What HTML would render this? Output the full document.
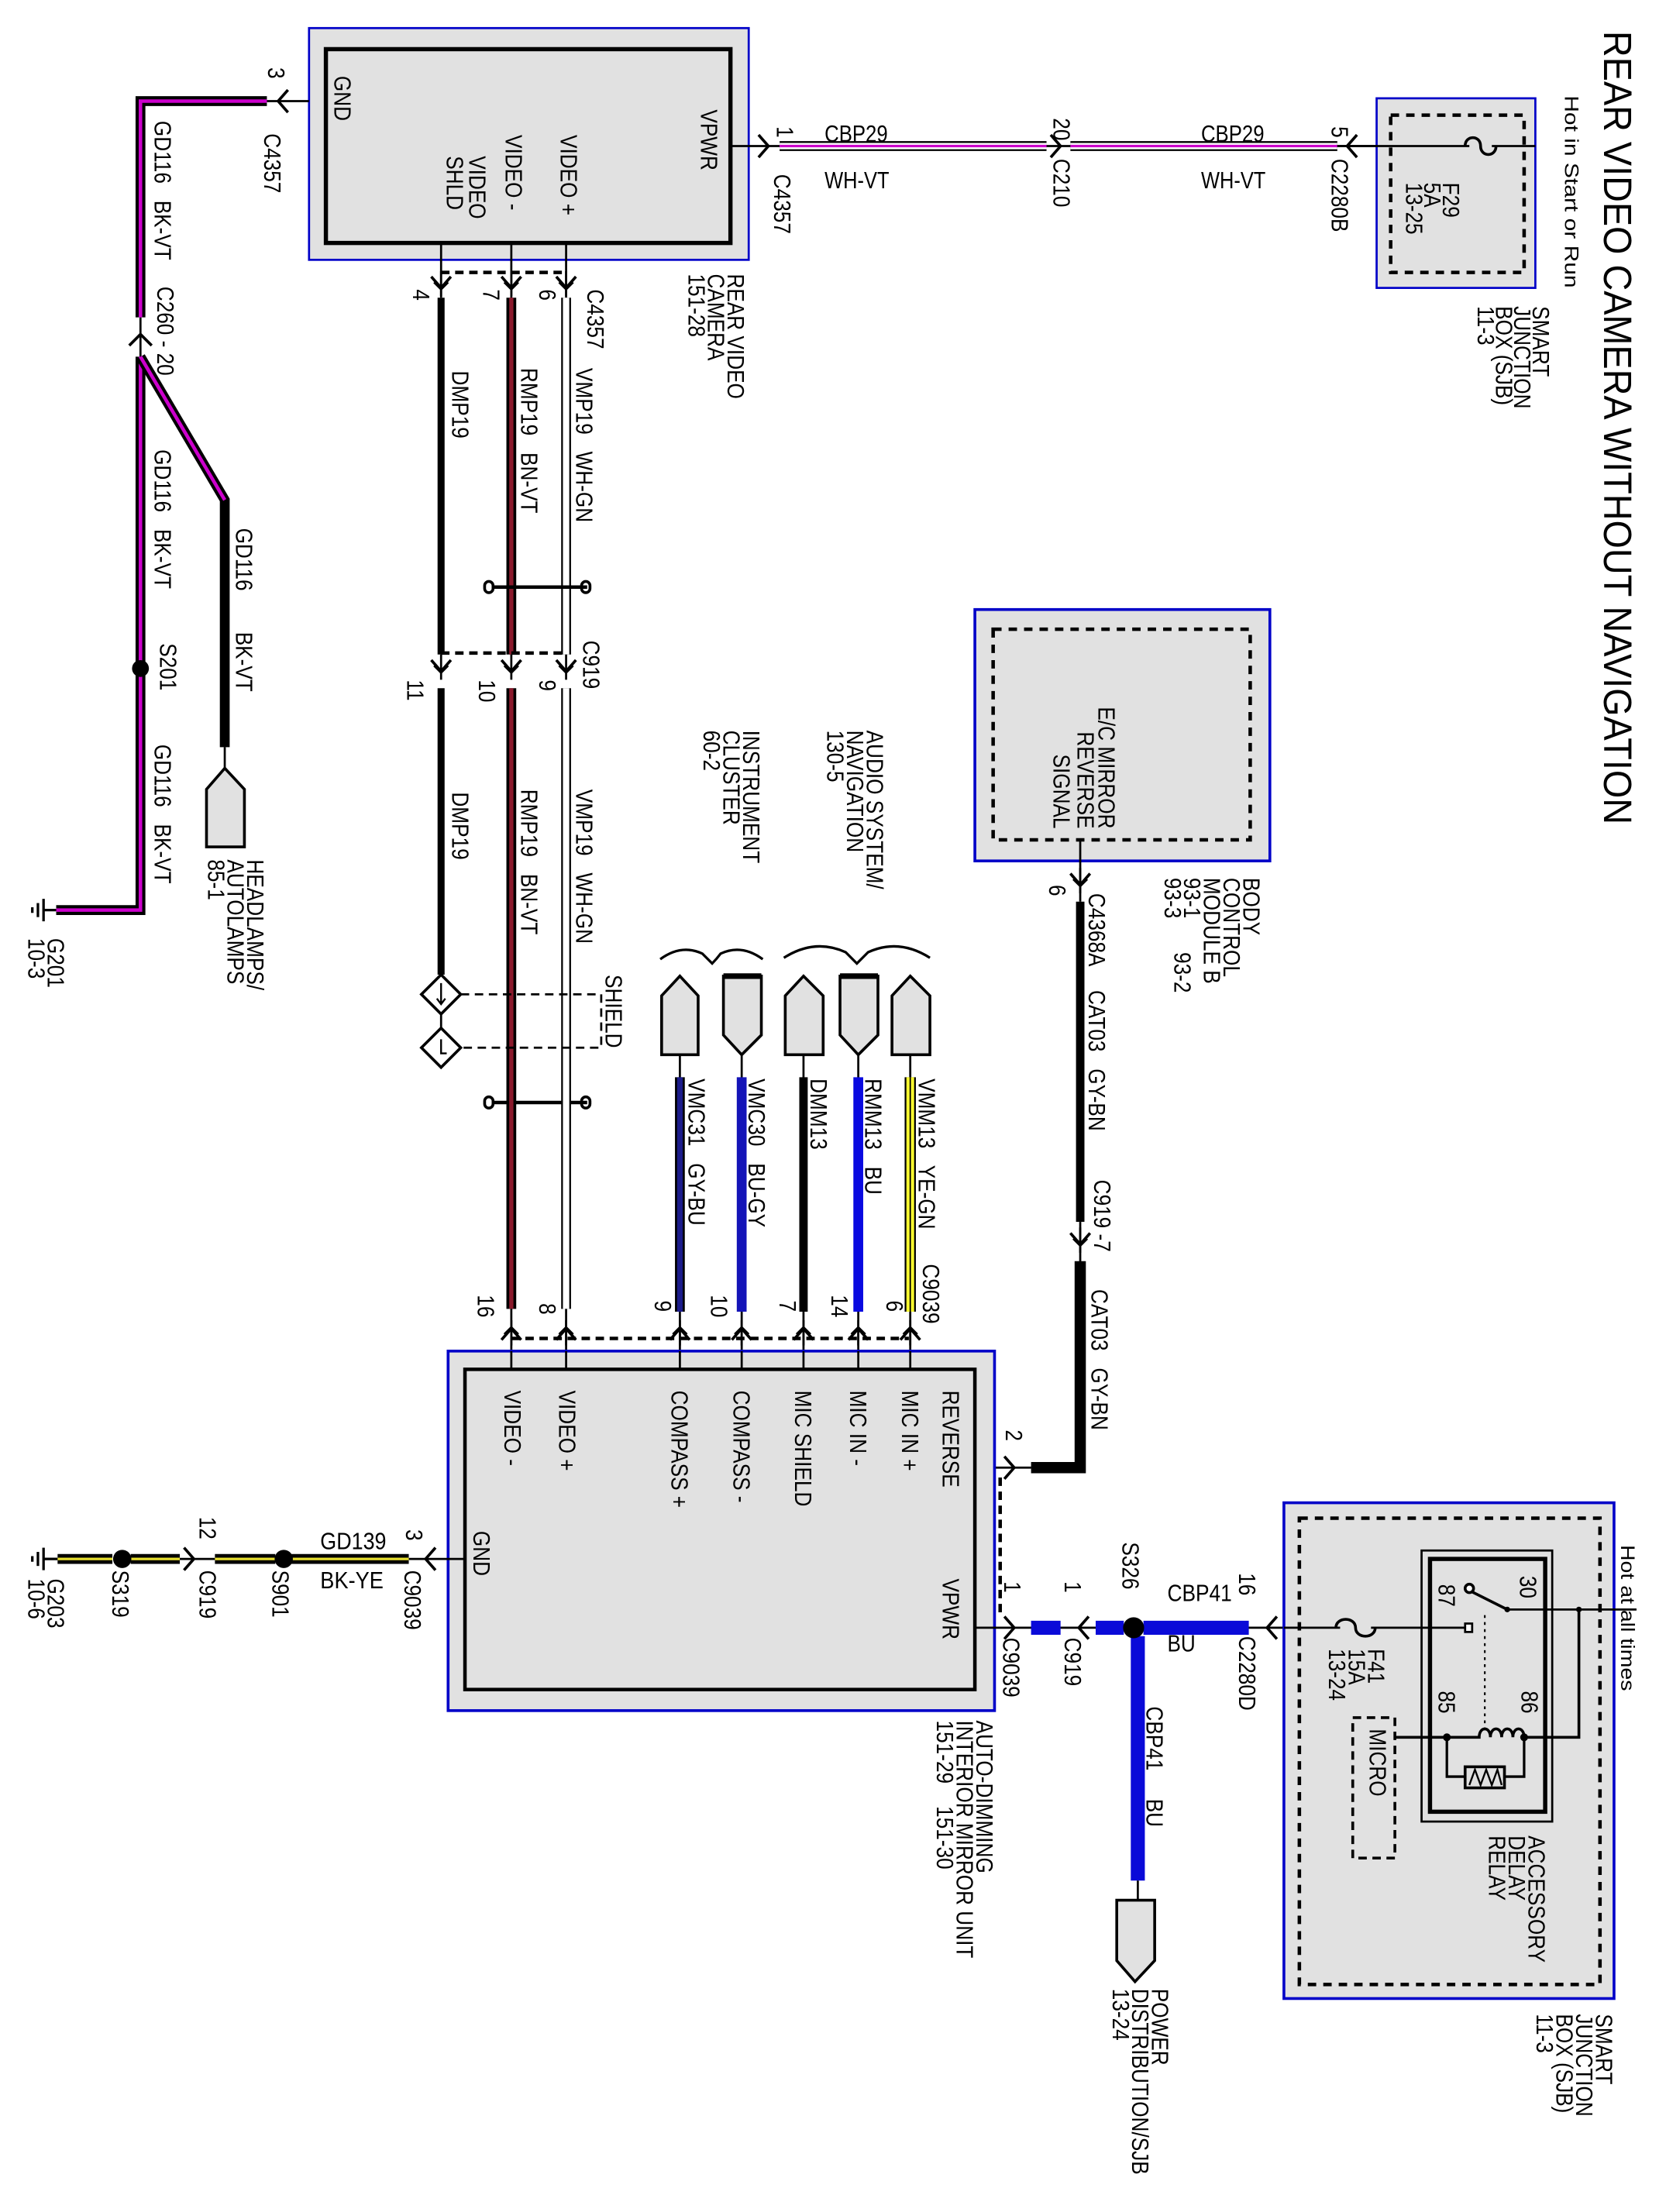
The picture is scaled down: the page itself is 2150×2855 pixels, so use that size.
<!DOCTYPE html>
<html><head><meta charset="utf-8"><style>
html,body{margin:0;padding:0;background:#fff;}
svg{display:block;}
text{font-family:"Liberation Sans",Arial,sans-serif;font-size:17px;fill:#000;white-space:pre;}
.s{font-size:14px;}
.t{font-size:28px;}
</style></head><body>
<svg width="2150" height="2855" viewBox="0 0 1186 1575" preserveAspectRatio="none" xmlns="http://www.w3.org/2000/svg" xml:space="preserve">
<rect width="1186" height="1575" fill="#fff"/>
<defs>
<g id="cd"><polyline points="-7,-8 0,0 7,-8" fill="none" stroke="#000" stroke-width="2"/><polyline points="-5,-4 0,1 5,-4" fill="none" stroke="#000" stroke-width="1.5"/><line x1="0" y1="-12" x2="0" y2="6" stroke="#000" stroke-width="1.5"/></g>
</defs>

<!-- Title -->
<text class="t" transform="translate(1142 22) rotate(90)" textLength="565" lengthAdjust="spacingAndGlyphs">REAR VIDEO CAMERA WITHOUT NAVIGATION</text>

<!-- ===== Rear video camera ===== -->
<rect x="220" y="20" width="313" height="165" fill="#e1e1e1" stroke="#0000c8" stroke-width="1.5"/>
<rect x="232" y="35" width="288" height="138" fill="none" stroke="#000" stroke-width="3"/>
<text transform="translate(238 54) rotate(90) scale(.85 1)">GND</text>
<text transform="translate(499 78) rotate(90) scale(.85 1)">VPWR</text>
<text transform="translate(399 96) rotate(90) scale(.85 1)">VIDEO +</text>
<text transform="translate(360 96) rotate(90) scale(.85 1)">VIDEO -</text>
<text transform="translate(334 111) rotate(90) scale(.85 1)">VIDEO</text>
<text transform="translate(318 111) rotate(90) scale(.85 1)">SHLD</text>
<text transform="translate(518 195) rotate(90) scale(.85 1)">REAR VIDEO</text>
<text transform="translate(504 195) rotate(90) scale(.85 1)">CAMERA</text>
<text transform="translate(490 195) rotate(90) scale(.85 1)">151-28</text>

<!-- camera pins -->
<line x1="314" y1="173" x2="314" y2="212" stroke="#000" stroke-width="1.5"/>
<line x1="364" y1="173" x2="364" y2="212" stroke="#000" stroke-width="1.5"/>
<line x1="403" y1="173" x2="403" y2="212" stroke="#000" stroke-width="1.5"/>
<line x1="314" y1="194" x2="403" y2="194" stroke="#000" stroke-width="2.5" stroke-dasharray="6,4"/>
<use href="#cd" x="314" y="205"/><use href="#cd" x="364" y="205"/><use href="#cd" x="403" y="205"/>
<text transform="translate(294 206) rotate(90) scale(.85 1)">4</text>
<text transform="translate(344 206) rotate(90) scale(.85 1)">7</text>
<text transform="translate(384 206) rotate(90) scale(.85 1)">6</text>
<text transform="translate(418 206) rotate(90) scale(.85 1)">C4357</text>

<!-- wires camera -> C919 -->
<line x1="314" y1="212" x2="314" y2="466" stroke="#000" stroke-width="5"/>
<line x1="364" y1="212" x2="364" y2="466" stroke="#000" stroke-width="7"/>
<line x1="364" y1="212" x2="364" y2="466" stroke="#8a1a2c" stroke-width="3"/>
<line x1="403" y1="212" x2="403" y2="466" stroke="#000" stroke-width="7"/>
<line x1="403" y1="212" x2="403" y2="466" stroke="#fff" stroke-width="4.5"/>
<text transform="translate(322 264) rotate(90) scale(.85 1)">DMP19</text>
<text transform="translate(371 262) rotate(90) scale(.85 1)">RMP19   BN-VT</text>
<text transform="translate(410 262) rotate(90) scale(.85 1)">VMP19   WH-GN</text>
<!-- twist marks -->
<g stroke="#000" fill="none" stroke-width="2">
<line x1="350" y1="418" x2="418" y2="418" stroke-width="2.5"/>
<rect x="345" y="414" width="6" height="8" rx="3"/><rect x="414" y="414" width="6" height="8" rx="3"/>
<line x1="350" y1="785" x2="418" y2="785" stroke-width="2.5"/>
<rect x="345" y="781" width="6" height="8" rx="3"/><rect x="414" y="781" width="6" height="8" rx="3"/>
</g>
<!-- C919 -->
<line x1="314" y1="465" x2="403" y2="465" stroke="#000" stroke-width="2.5" stroke-dasharray="6,4"/>
<use href="#cd" x="314" y="478"/><use href="#cd" x="364" y="478"/><use href="#cd" x="403" y="478"/>
<text transform="translate(290 484) rotate(90) scale(.85 1)">11</text>
<text transform="translate(341 484) rotate(90) scale(.85 1)">10</text>
<text transform="translate(384 484) rotate(90) scale(.85 1)">9</text>
<text transform="translate(415 456) rotate(90) scale(.85 1)">C919</text>

<line x1="314" y1="490" x2="314" y2="694" stroke="#000" stroke-width="5"/>
<line x1="364" y1="490" x2="364" y2="932" stroke="#000" stroke-width="7"/>
<line x1="364" y1="490" x2="364" y2="932" stroke="#8a1a2c" stroke-width="3"/>
<line x1="403" y1="490" x2="403" y2="932" stroke="#000" stroke-width="7"/>
<line x1="403" y1="490" x2="403" y2="932" stroke="#fff" stroke-width="4.5"/>
<text transform="translate(322 564) rotate(90) scale(.85 1)">DMP19</text>
<text transform="translate(371 562) rotate(90) scale(.85 1)">RMP19   BN-VT</text>
<text transform="translate(410 562) rotate(90) scale(.85 1)">VMP19   WH-GN</text>

<!-- shield diamonds -->
<g stroke="#000" stroke-width="2" fill="#fff">
<polygon points="314,694 328,708 314,722 300,708"/>
<polygon points="314,732 328,746 314,760 300,746"/>
</g>
<line x1="314" y1="722" x2="314" y2="732" stroke="#000" stroke-width="1.5"/>
<path d="M314 700 L314 715 M311 711 L314 715 L317 711" stroke="#000" stroke-width="1.3" fill="none"/>
<path d="M314 740 L314 750 L318 750" stroke="#000" stroke-width="1.3" fill="none"/>
<path d="M328 708 L428 708 L428 746 L328 746" stroke="#000" stroke-width="1.5" fill="none" stroke-dasharray="6,4"/>
<text transform="translate(431 694) rotate(90) scale(.85 1)">SHIELD</text>

<!-- bottom pins to mirror -->
<use href="#cd" x="364" y="946" transform="rotate(180 364 946)"/>
<use href="#cd" x="403" y="946" transform="rotate(180 403 946)"/>
<text transform="translate(340 922) rotate(90) scale(.85 1)">16</text>
<text transform="translate(384 928) rotate(90) scale(.85 1)">8</text>
<line x1="364" y1="953" x2="647" y2="953" stroke="#000" stroke-width="2.5" stroke-dasharray="6,4"/>

<!-- ===== Left ground GD116 ===== -->
<line x1="220" y1="72" x2="190" y2="72" stroke="#000" stroke-width="1.5"/>
<polyline points="205,64 198,72 205,80" fill="none" stroke="#000" stroke-width="2"/>
<path d="M190 72 L100 72 L100 226" fill="none" stroke="#000" stroke-width="7"/>
<path d="M190 72 L100 72 L100 226" fill="none" stroke="#cc00cc" stroke-width="2.5"/>
<text transform="translate(191 48) rotate(90) scale(.85 1)">3</text>
<text transform="translate(188 95) rotate(90) scale(.85 1)">C4357</text>
<text transform="translate(110 86) rotate(90) scale(.85 1)">GD116   BK-VT</text>
<text transform="translate(112 204) rotate(90) scale(.85 1)">C260 - 20</text>
<line x1="100" y1="226" x2="100" y2="254" stroke="#000" stroke-width="1.5"/>
<polyline points="92,246 100,238 108,246" fill="none" stroke="#000" stroke-width="2"/>
<path d="M100 254 L100 648 L40 648" fill="none" stroke="#000" stroke-width="7"/>
<path d="M100 254 L100 648 L40 648" fill="none" stroke="#cc00cc" stroke-width="2.5"/>
<path d="M100 254 L160 356 L160 532" fill="none" stroke="#000" stroke-width="7"/>
<path d="M100 254 L160 356" fill="none" stroke="#cc00cc" stroke-width="2.5"/>
<circle cx="100" cy="476" r="6" fill="#000"/>
<text transform="translate(110 320) rotate(90) scale(.85 1)">GD116   BK-VT</text>
<text transform="translate(114 458) rotate(90) scale(.85 1)">S201</text>
<text transform="translate(110 530) rotate(90) scale(.85 1)">GD116   BK-VT</text>
<text transform="translate(168 376) rotate(90) scale(.85 1)">GD116</text>
<text transform="translate(168 450) rotate(90) scale(.85 1)">BK-VT</text>
<line x1="160" y1="532" x2="160" y2="547" stroke="#000" stroke-width="1.5"/>
<polygon points="160,547 174,562 174,603 147,603 147,562" fill="#e1e1e1" stroke="#000" stroke-width="2"/>
<text transform="translate(176 612) rotate(90) scale(.85 1)">HEADLAMPS/</text>
<text transform="translate(162 612) rotate(90) scale(.85 1)">AUTOLAMPS</text>
<text transform="translate(148 612) rotate(90) scale(.85 1)">85-1</text>
<!-- G201 -->
<g stroke="#000" stroke-width="1.8"><line x1="40" y1="648" x2="31" y2="648"/><line x1="31" y1="640" x2="31" y2="656"/><line x1="27" y1="643" x2="27" y2="653"/><line x1="23" y1="646" x2="23" y2="650"/></g>
<text transform="translate(34 668) rotate(90) scale(.85 1)">G201</text>
<text transform="translate(20 668) rotate(90) scale(.85 1)">10-3</text>

<!-- ===== Top power CBP29 ===== -->
<line x1="519" y1="104" x2="555" y2="104" stroke="#000" stroke-width="1.5"/>
<polyline points="540,96 547,104 540,112" fill="none" stroke="#000" stroke-width="2"/>
<g>
<line x1="555" y1="104" x2="745" y2="104" stroke="#000" stroke-width="7"/>
<line x1="555" y1="104" x2="745" y2="104" stroke="#fff" stroke-width="4.5"/>
<line x1="555" y1="104" x2="745" y2="104" stroke="#cc00cc" stroke-width="1.8"/>
<line x1="762" y1="104" x2="952" y2="104" stroke="#000" stroke-width="7"/>
<line x1="762" y1="104" x2="952" y2="104" stroke="#fff" stroke-width="4.5"/>
<line x1="762" y1="104" x2="952" y2="104" stroke="#cc00cc" stroke-width="1.8"/>
</g>
<line x1="745" y1="104" x2="762" y2="104" stroke="#000" stroke-width="1.5"/>
<polyline points="748,96 755,104 748,112" fill="none" stroke="#000" stroke-width="2"/>
<line x1="952" y1="104" x2="1093" y2="104" stroke="#000" stroke-width="1.5"/>
<polyline points="966,96 959,104 966,112" fill="none" stroke="#000" stroke-width="2"/>
<text transform="translate(553 90) rotate(90) scale(.85 1)">1</text>
<text transform="translate(551 124) rotate(90) scale(.85 1)">C4357</text>
<text x="587" y="101" textLength="45" lengthAdjust="spacingAndGlyphs">CBP29</text>
<text x="587" y="134" textLength="46" lengthAdjust="spacingAndGlyphs">WH-VT</text>
<text x="855" y="101" textLength="45" lengthAdjust="spacingAndGlyphs">CBP29</text>
<text x="855" y="134" textLength="46" lengthAdjust="spacingAndGlyphs">WH-VT</text>
<text transform="translate(750 84) rotate(90) scale(.85 1)">20</text>
<text transform="translate(750 113) rotate(90) scale(.85 1)">C210</text>
<text transform="translate(948 90) rotate(90) scale(.85 1)">5</text>
<text transform="translate(948 113) rotate(90) scale(.85 1)">C2280B</text>
<!-- SJB top -->
<rect x="980" y="70" width="113" height="135" fill="#e1e1e1" stroke="#0000c8" stroke-width="1.5"/>
<rect x="990" y="82" width="95" height="112" fill="none" stroke="#000" stroke-width="2.5" stroke-dasharray="6,5"/>
<line x1="952" y1="104" x2="1093" y2="104" stroke="#000" stroke-width="1.5"/>
<line x1="1046" y1="104" x2="1062" y2="104" stroke="#e1e1e1" stroke-width="2.5"/>
<path d="M1043 104 C1043 96 1054 96 1054 104 C1054 112 1065 112 1065 104" fill="none" stroke="#000" stroke-width="2"/>
<text transform="translate(1027 130) rotate(90) scale(.85 1)">F29</text>
<text transform="translate(1014 130) rotate(90) scale(.85 1)">5A</text>
<text transform="translate(1001 130) rotate(90) scale(.85 1)">13-25</text>
<text class="s" transform="translate(1114 68) rotate(90)" textLength="137" lengthAdjust="spacingAndGlyphs">Hot in Start or Run</text>
<text transform="translate(1091 218) rotate(90) scale(.85 1)">SMART</text>
<text transform="translate(1078 218) rotate(90) scale(.85 1)">JUNCTION</text>
<text transform="translate(1065 218) rotate(90) scale(.85 1)">BOX (SJB)</text>
<text transform="translate(1052 218) rotate(90) scale(.85 1)">11-3</text>

<!-- ===== BCM ===== -->
<rect x="694" y="434" width="210" height="179" fill="#e1e1e1" stroke="#0000c8" stroke-width="2"/>
<rect x="707" y="448" width="183" height="150" fill="none" stroke="#000" stroke-width="2.5" stroke-dasharray="6,5"/>
<text transform="translate(782 590) rotate(90) scale(.85 1)" text-anchor="end">E/C MIRROR</text>
<text transform="translate(767 590) rotate(90) scale(.85 1)" text-anchor="end">REVERSE</text>
<text transform="translate(750 590) rotate(90) scale(.85 1)" text-anchor="end">SIGNAL</text>
<line x1="769" y1="598" x2="769" y2="642" stroke="#000" stroke-width="1.5"/>
<use href="#cd" x="769" y="630"/>
<text transform="translate(747 630) rotate(90) scale(.85 1)">6</text>
<text transform="translate(885 625) rotate(90) scale(.85 1)">BODY</text>
<text transform="translate(871 625) rotate(90) scale(.85 1)">CONTROL</text>
<text transform="translate(857 625) rotate(90) scale(.85 1)">MODULE B</text>
<text transform="translate(843 625) rotate(90) scale(.85 1)">93-1</text>
<text transform="translate(836 678) rotate(90) scale(.85 1)">93-2</text>
<text transform="translate(829 625) rotate(90) scale(.85 1)">93-3</text>
<line x1="769" y1="642" x2="769" y2="870" stroke="#000" stroke-width="6"/>
<text transform="translate(775 636) rotate(90) scale(.85 1)">C4368A</text>
<text transform="translate(775 705) rotate(90) scale(.85 1)">CAT03   GY-BN</text>
<line x1="769" y1="870" x2="769" y2="900" stroke="#000" stroke-width="1.5"/>
<use href="#cd" x="769" y="886"/>
<text transform="translate(779 840) rotate(90) scale(.85 1)">C919 -7</text>
<path d="M769 898 L769 1045 L734 1045" fill="none" stroke="#000" stroke-width="8"/>
<text transform="translate(777 918) rotate(90) scale(.85 1)">CAT03   GY-BN</text>
<line x1="694" y1="1045" x2="734" y2="1045" stroke="#000" stroke-width="1.5"/>
<polyline points="715,1037 722,1045 715,1053" fill="none" stroke="#000" stroke-width="2"/>
<text transform="translate(716 1018) rotate(90) scale(.85 1)">2</text>
<line x1="712" y1="1052" x2="712" y2="1152" stroke="#000" stroke-width="2.5" stroke-dasharray="6,4"/>

<!-- ===== Audio / Cluster connectors ===== -->
<text transform="translate(617 520) rotate(90) scale(.85 1)">AUDIO SYSTEM/</text>
<text transform="translate(603 520) rotate(90) scale(.85 1)">NAVIGATION</text>
<text transform="translate(589 520) rotate(90) scale(.85 1)">130-5</text>
<text transform="translate(529 520) rotate(90) scale(.85 1)">INSTRUMENT</text>
<text transform="translate(515 520) rotate(90) scale(.85 1)">CLUSTER</text>
<text transform="translate(501 520) rotate(90) scale(.85 1)">60-2</text>
<g fill="none" stroke="#000" stroke-width="1.8">
<path d="M470 683 Q485 672 500 679 Q504 683 507 686 Q510 683 513 679 Q528 672 543 683"/>
<path d="M558 682 Q580 668 602 678 Q607 683 610 686 Q613 683 618 678 Q640 668 662 682"/>
</g>
<g fill="#e1e1e1" stroke="#000" stroke-width="2">
<polygon points="484,695 497,709 497,751 471,751 471,709"/>
<polygon points="515,695 542,695 542,737 528,751 515,737"/>
<polygon points="572,695 586,709 586,751 559,751 559,709"/>
<polygon points="598,695 625,695 625,737 611,751 598,737"/>
<polygon points="648,695 662,709 662,751 635,751 635,709"/>
</g>
<line x1="515" y1="695" x2="542" y2="695" stroke="#000" stroke-width="4"/>
<line x1="598" y1="695" x2="625" y2="695" stroke="#000" stroke-width="4"/>
<g stroke="#000" stroke-width="1.5">
<line x1="484" y1="751" x2="484" y2="975"/><line x1="528" y1="751" x2="528" y2="975"/>
<line x1="572" y1="751" x2="572" y2="975"/><line x1="611" y1="751" x2="611" y2="975"/>
<line x1="648" y1="751" x2="648" y2="975"/>
<line x1="364" y1="932" x2="364" y2="975"/><line x1="403" y1="932" x2="403" y2="975"/>
</g>
<line x1="484" y1="767" x2="484" y2="934" stroke="#000" stroke-width="7"/>
<line x1="484" y1="767" x2="484" y2="934" stroke="#1c1c8a" stroke-width="4"/>
<line x1="528" y1="767" x2="528" y2="934" stroke="#1414b8" stroke-width="7"/>
<line x1="572" y1="767" x2="572" y2="934" stroke="#000" stroke-width="6"/>
<line x1="611" y1="767" x2="611" y2="934" stroke="#0a0ae0" stroke-width="7"/>
<line x1="648" y1="767" x2="648" y2="934" stroke="#000" stroke-width="8"/>
<line x1="648" y1="767" x2="648" y2="934" stroke="#ffff30" stroke-width="5.5"/>
<line x1="648" y1="767" x2="648" y2="934" stroke="#000" stroke-width="1"/>
<text transform="translate(490 768) rotate(90) scale(.85 1)">VMC31   GY-BU</text>
<text transform="translate(533 768) rotate(90) scale(.85 1)">VMC30   BU-GY</text>
<text transform="translate(577 768) rotate(90) scale(.85 1)">DMM13</text>
<text transform="translate(616 768) rotate(90) scale(.85 1)">RMM13   BU</text>
<text transform="translate(654 768) rotate(90) scale(.85 1)">VMM13   YE-GN</text>
<text transform="translate(657 900) rotate(90) scale(.85 1)">C9039</text>
<text transform="translate(466 926) rotate(90) scale(.85 1)">9</text>
<text transform="translate(506 922) rotate(90) scale(.85 1)">10</text>
<text transform="translate(555 926) rotate(90) scale(.85 1)">7</text>
<text transform="translate(592 922) rotate(90) scale(.85 1)">14</text>
<text transform="translate(631 926) rotate(90) scale(.85 1)">6</text>
<use href="#cd" x="484" y="946" transform="rotate(180 484 946)"/>
<use href="#cd" x="528" y="946" transform="rotate(180 528 946)"/>
<use href="#cd" x="572" y="946" transform="rotate(180 572 946)"/>
<use href="#cd" x="611" y="946" transform="rotate(180 611 946)"/>
<use href="#cd" x="648" y="946" transform="rotate(180 648 946)"/>

<!-- ===== Mirror ===== -->
<rect x="319" y="962" width="389" height="256" fill="#e1e1e1" stroke="#0000c8" stroke-width="2"/>
<rect x="331" y="975" width="363" height="228" fill="none" stroke="#000" stroke-width="2.5"/>
<g stroke="#000" stroke-width="1.5">
<line x1="364" y1="962" x2="364" y2="975"/><line x1="403" y1="962" x2="403" y2="975"/>
<line x1="484" y1="962" x2="484" y2="975"/><line x1="528" y1="962" x2="528" y2="975"/>
<line x1="572" y1="962" x2="572" y2="975"/><line x1="611" y1="962" x2="611" y2="975"/>
<line x1="648" y1="962" x2="648" y2="975"/>
</g>
<text transform="translate(359 990) rotate(90) scale(.85 1)">VIDEO -</text>
<text transform="translate(398 990) rotate(90) scale(.85 1)">VIDEO +</text>
<text transform="translate(478 990) rotate(90) scale(.85 1)">COMPASS +</text>
<text transform="translate(522 990) rotate(90) scale(.85 1)">COMPASS -</text>
<text transform="translate(566 990) rotate(90) scale(.85 1)">MIC SHIELD</text>
<text transform="translate(605 990) rotate(90) scale(.85 1)">MIC IN -</text>
<text transform="translate(642 990) rotate(90) scale(.85 1)">MIC IN +</text>
<text transform="translate(671 990) rotate(90) scale(.85 1)">REVERSE</text>
<text transform="translate(671 1124) rotate(90) scale(.85 1)">VPWR</text>
<text transform="translate(337 1090) rotate(90) scale(.85 1)">GND</text>
<text transform="translate(695 1225) rotate(90) scale(.85 1)">AUTO-DIMMING</text>
<text transform="translate(681 1225) rotate(90) scale(.85 1)">INTERIOR MIRROR UNIT</text>
<text transform="translate(667 1225) rotate(90) scale(.85 1)">151-29    151-30</text>

<!-- mirror GND -->
<line x1="331" y1="1110" x2="291" y2="1110" stroke="#000" stroke-width="1.5"/>
<polyline points="310,1102 303,1110 310,1118" fill="none" stroke="#000" stroke-width="2"/>
<g stroke="#000" stroke-width="7"><line x1="291" y1="1110" x2="207" y2="1110"/><line x1="196" y1="1110" x2="153" y2="1110"/><line x1="128" y1="1110" x2="93" y2="1110"/><line x1="80" y1="1110" x2="41" y2="1110"/></g>
<g stroke="#e8e030" stroke-width="1.8"><line x1="291" y1="1110" x2="207" y2="1110"/><line x1="196" y1="1110" x2="153" y2="1110"/><line x1="128" y1="1110" x2="93" y2="1110"/><line x1="80" y1="1110" x2="41" y2="1110"/></g>
<line x1="153" y1="1110" x2="128" y2="1110" stroke="#000" stroke-width="1.5"/>
<polyline points="131,1102 138,1110 131,1118" fill="none" stroke="#000" stroke-width="2"/>
<circle cx="202" cy="1110" r="6.5" fill="#000"/>
<circle cx="87" cy="1110" r="6.5" fill="#000"/>
<g stroke="#000" stroke-width="1.8"><line x1="41" y1="1110" x2="31" y2="1110"/><line x1="31" y1="1102" x2="31" y2="1118"/><line x1="27" y1="1105" x2="27" y2="1115"/><line x1="23" y1="1108" x2="23" y2="1112"/></g>
<text transform="translate(289 1089) rotate(90) scale(.85 1)">3</text>
<text transform="translate(288 1118) rotate(90) scale(.85 1)">C9039</text>
<text x="228" y="1103" textLength="47" lengthAdjust="spacingAndGlyphs">GD139</text>
<text x="228" y="1131" textLength="45" lengthAdjust="spacingAndGlyphs">BK-YE</text>
<text transform="translate(194 1118) rotate(90) scale(.85 1)">S901</text>
<text transform="translate(142 1080) rotate(90) scale(.85 1)">12</text>
<text transform="translate(142 1118) rotate(90) scale(.85 1)">C919</text>
<text transform="translate(80 1118) rotate(90) scale(.85 1)">S319</text>
<text transform="translate(34 1124) rotate(90) scale(.85 1)">G203</text>
<text transform="translate(20 1124) rotate(90) scale(.85 1)">10-6</text>

<!-- mirror VPWR -->
<line x1="694" y1="1159" x2="952" y2="1159" stroke="#000" stroke-width="1.5"/>
<polyline points="715,1151 722,1159 715,1167" fill="none" stroke="#000" stroke-width="2"/>
<polyline points="775,1151 768,1159 775,1167" fill="none" stroke="#000" stroke-width="2"/>
<polyline points="909,1151 902,1159 909,1167" fill="none" stroke="#000" stroke-width="2"/>
<g stroke="#0a0ad8" stroke-width="10"><line x1="734" y1="1159" x2="755" y2="1159"/><line x1="780" y1="1159" x2="800" y2="1159"/><line x1="814" y1="1159" x2="889" y2="1159"/><line x1="810" y1="1165" x2="810" y2="1339"/></g>
<circle cx="807" cy="1159" r="7.5" fill="#000"/>
<line x1="810" y1="1339" x2="810" y2="1353" stroke="#000" stroke-width="1.5"/>
<polygon points="795,1353 822,1353 822,1396 808,1411 795,1396" fill="#e1e1e1" stroke="#000" stroke-width="2"/>
<text transform="translate(715 1126) rotate(90) scale(.85 1)">1</text>
<text transform="translate(714 1166) rotate(90) scale(.85 1)">C9039</text>
<text transform="translate(758 1126) rotate(90) scale(.85 1)">1</text>
<text transform="translate(758 1166) rotate(90) scale(.85 1)">C919</text>
<text transform="translate(799 1098) rotate(90) scale(.85 1)">S326</text>
<text x="831" y="1140" textLength="46" lengthAdjust="spacingAndGlyphs">CBP41</text>
<text x="831" y="1176" textLength="20" lengthAdjust="spacingAndGlyphs">BU</text>
<text transform="translate(882 1120) rotate(90) scale(.85 1)">16</text>
<text transform="translate(882 1165) rotate(90) scale(.85 1)">C2280D</text>
<text transform="translate(816 1215) rotate(90) scale(.85 1)">CBP41     BU</text>
<text transform="translate(820 1416) rotate(90) scale(.85 1)">POWER</text>
<text transform="translate(806 1416) rotate(90) scale(.85 1)">DISTRIBUTION/SJB</text>
<text transform="translate(792 1416) rotate(90) scale(.85 1)">13-24</text>

<!-- ===== SJB bottom ===== -->
<rect x="914" y="1070" width="235" height="353" fill="#e1e1e1" stroke="#0000c8" stroke-width="2"/>
<rect x="925" y="1081" width="214" height="332" fill="none" stroke="#000" stroke-width="2.5" stroke-dasharray="6,5"/>
<rect x="1012" y="1104" width="93" height="193" fill="none" stroke="#000" stroke-width="1.5"/>
<rect x="1018" y="1110" width="82" height="180" fill="none" stroke="#000" stroke-width="3"/>
<line x1="914" y1="1159" x2="1044" y2="1159" stroke="#000" stroke-width="1.5"/>
<line x1="954" y1="1159" x2="976" y2="1159" stroke="#e1e1e1" stroke-width="2.5"/>
<path d="M951 1159 C951 1151 965 1151 965 1159 C965 1167 979 1167 979 1159" fill="none" stroke="#000" stroke-width="2"/>
<rect x="1043" y="1156" width="5" height="6" fill="#fff" stroke="#000" stroke-width="1.5"/>
<line x1="1073" y1="1146" x2="1165" y2="1146" stroke="#000" stroke-width="1.5"/>
<line x1="1073" y1="1146" x2="1047" y2="1133" stroke="#000" stroke-width="2"/>
<circle cx="1046" cy="1131" r="3" fill="#fff" stroke="#000" stroke-width="2"/>
<circle cx="1073" cy="1146" r="2" fill="#000"/>
<circle cx="1124" cy="1146" r="2" fill="#000"/>
<line x1="1057" y1="1150" x2="1057" y2="1234" stroke="#000" stroke-width="1.2" stroke-dasharray="2,3"/>
<path d="M1124 1146 L1124 1237 L1085 1237" fill="none" stroke="#000" stroke-width="2"/>
<path d="M1085 1237 C1085 1229 1077 1229 1077 1237 C1077 1229 1069 1229 1069 1237 C1069 1229 1061 1229 1061 1237 C1061 1229 1053 1229 1053 1237 L1030 1237 L993 1237" fill="none" stroke="#000" stroke-width="2"/>
<circle cx="1085" cy="1237" r="2.8" fill="#000"/>
<circle cx="1030" cy="1237" r="2.8" fill="#000"/>
<path d="M1030 1237 L1030 1265 L1043 1265 M1071 1265 L1085 1265 L1085 1237" fill="none" stroke="#000" stroke-width="1.8"/>
<rect x="1043" y="1258" width="28" height="15" fill="#e1e1e1" stroke="#000" stroke-width="2"/>
<polyline points="1046,1271 1050,1260 1054,1271 1058,1260 1062,1271 1066,1260 1069,1271" fill="none" stroke="#000" stroke-width="1.3"/>
<rect x="963" y="1223" width="30" height="100" fill="none" stroke="#000" stroke-width="2" stroke-dasharray="6,4"/>
<text transform="translate(975 1231) rotate(90) scale(.85 1)">MICRO</text>
<text transform="translate(1082 1122) rotate(90) scale(.85 1)">30</text>
<text transform="translate(1024 1128) rotate(90) scale(.85 1)">87</text>
<text transform="translate(1024 1204) rotate(90) scale(.85 1)">85</text>
<text transform="translate(1083 1204) rotate(90) scale(.85 1)">86</text>
<text transform="translate(974 1174) rotate(90) scale(.85 1)">F41</text>
<text transform="translate(960 1174) rotate(90) scale(.85 1)">15A</text>
<text transform="translate(946 1174) rotate(90) scale(.85 1)">13-24</text>
<text transform="translate(1088 1307) rotate(90) scale(.85 1)">ACCESSORY</text>
<text transform="translate(1074 1307) rotate(90) scale(.85 1)">DELAY</text>
<text transform="translate(1060 1307) rotate(90) scale(.85 1)">RELAY</text>
<text class="s" transform="translate(1154 1100) rotate(90)" textLength="104" lengthAdjust="spacingAndGlyphs">Hot at all times</text>
<text transform="translate(1136 1434) rotate(90) scale(.85 1)">SMART</text>
<text transform="translate(1122 1434) rotate(90) scale(.85 1)">JUNCTION</text>
<text transform="translate(1108 1434) rotate(90) scale(.85 1)">BOX (SJB)</text>
<text transform="translate(1094 1434) rotate(90) scale(.85 1)">11-3</text>
</svg>
</body></html>
